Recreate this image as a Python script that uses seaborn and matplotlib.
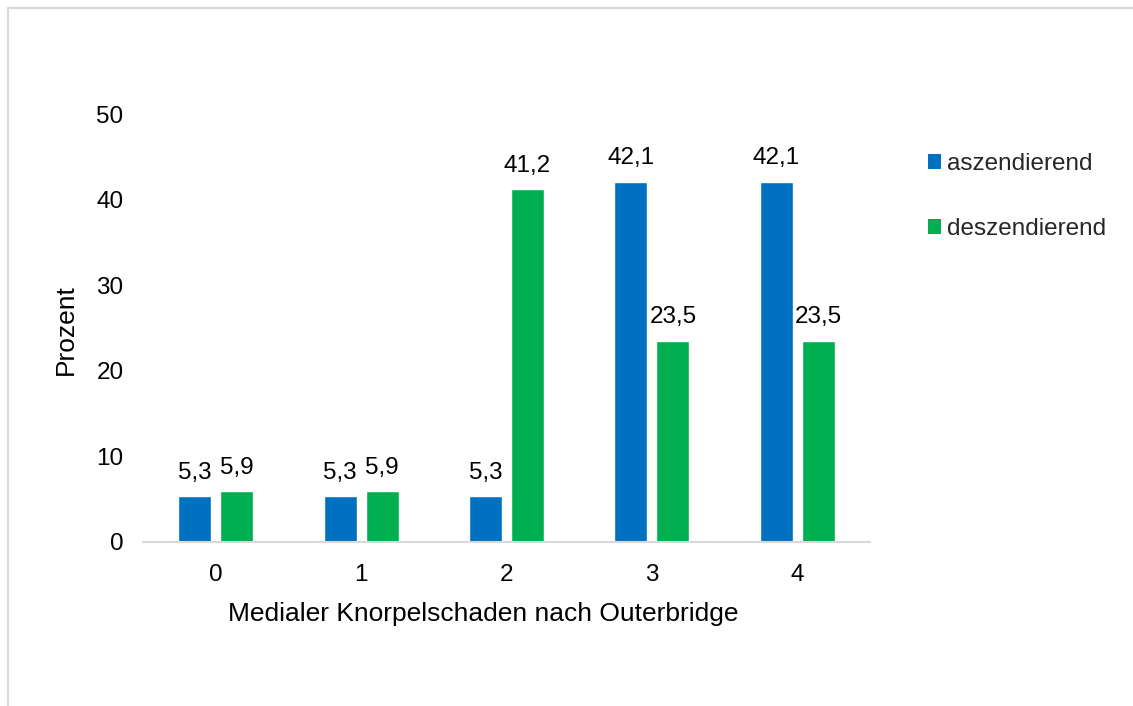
import matplotlib
matplotlib.use("Agg")
import matplotlib.pyplot as plt
from matplotlib.lines import Line2D
from matplotlib.patches import Patch
import seaborn as sns
import pandas as pd

# Outerbridge grades and share of patients per group (percent)
grades = ["0", "1", "2", "3", "4"]
series_names = ["aszendierend", "deszendierend"]
aszendierend = [5.3, 5.3, 5.3, 42.1, 42.1]
deszendierend = [5.9, 5.9, 41.2, 23.5, 23.5]
y_ticks = [0, 10, 20, 30, 40, 50]
colors = ["#0070C0", "#00B050"]

df = pd.DataFrame({
    "Grad": grades * 2,
    "Gruppe": [series_names[0]] * len(grades) + [series_names[1]] * len(grades),
    "Prozent": aszendierend + deszendierend,
})

sns.set_theme(style="white")
plt.rcParams["font.family"] = ["Liberation Sans", "DejaVu Sans"]

fig = plt.figure(figsize=(11.33, 7.06), dpi=100)
ax = fig.add_axes([0.1262, 0.2327, 0.6417, 0.6058])

sns.barplot(data=df, x="Grad", y="Prozent", hue="Gruppe", order=grades,
            hue_order=series_names, palette=colors, width=0.578, gap=0.215,
            saturation=1, errorbar=None, legend=False, ax=ax)

for cont in ax.containers:
    ax.bar_label(cont, labels=[f"{v:.1f}".replace(".", ",") for v in cont.datavalues],
                 padding=9, fontsize=17.5, color="#000000")

ax.set_ylim(0, 50)
ax.set_yticks(y_ticks)
ax.set_xlim(-0.5, len(grades) - 0.5)
ax.tick_params(axis="both", labelsize=17.5, colors="#000000", length=0)
ax.tick_params(axis="x", pad=16)
ax.tick_params(axis="y", pad=14)
for side in ["top", "right", "left"]:
    ax.spines[side].set_visible(False)
ax.spines["bottom"].set_color("#D9D9D9")
ax.spines["bottom"].set_linewidth(1.5)

ax.set_xlabel("Medialer Knorpelschaden nach Outerbridge", fontsize=19, color="#000000")
ax.xaxis.set_label_coords(0.468, -0.14)
ax.set_ylabel("Prozent", fontsize=19, color="#000000")
ax.yaxis.set_label_coords(-0.09, 0.495)

handles = [Patch(facecolor=c, edgecolor="none") for c in colors]
fig.legend(handles, series_names, loc="upper left", bbox_to_anchor=(0.8105, 0.797),
           frameon=False, fontsize=17.5, handlelength=0.55, handleheight=0.55,
           handletextpad=0.25, labelspacing=1.78, borderaxespad=0)

# Frame lines along the top and left edge of the canvas
fig.add_artist(Line2D([0.0075, 0.0075], [0.0, 0.9885], transform=fig.transFigure,
                      color="#D9D9D9", linewidth=1.5))
fig.add_artist(Line2D([0.0075, 1.0], [0.9885, 0.9885], transform=fig.transFigure,
                      color="#D9D9D9", linewidth=1.5))

fig.savefig("out.png", dpi=100, facecolor="white")
